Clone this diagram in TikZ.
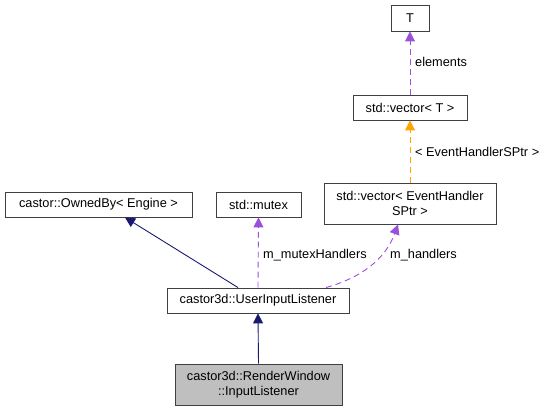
\documentclass[tikz,border=0pt]{standalone}
\usepackage{fontspec}
\setmainfont{Liberation Sans}
\usetikzlibrary{arrows.meta}
\definecolor{navyc}{RGB}{25,25,112}
\definecolor{purp}{RGB}{155,80,220}
\definecolor{orng}{RGB}{255,165,0}
\definecolor{grayfill}{RGB}{191,191,191}
\begin{document}
\begin{tikzpicture}[x=1bp,y=-1bp,
  box/.style={draw=black!75,line width=0.9pt,fill=white,inner sep=0pt,font=\fontsize{12.8}{14.5}\selectfont,align=center},
  inh/.style={navyc,line width=0.9pt,-{Triangle[length=10pt,width=10pt,fill=navyc]}},
  mem/.style={purp,dash pattern=on 6pt off 4pt,line width=0.9pt,-{Triangle[length=10pt,width=10pt,fill=purp]}},
  tmpl/.style={orng,dash pattern=on 6pt off 4pt,line width=0.9pt,-{Triangle[length=10pt,width=10pt,fill=orng]}},
  lbl/.style={font=\fontsize{12.8}{14.5}\selectfont,anchor=west,inner sep=0pt}]
\useasboundingbox (0,0) rectangle (547,411);
\node[box,minimum width=38bp,minimum height=26bp] (T) at (410,18) {T};
\node[box,minimum width=114bp,minimum height=25bp] (vT) at (410,107.5) {std::vector< T >};
\node[box,minimum width=172bp,minimum height=41bp] (vE) at (410,203.5) {std::vector< EventHandler\\SPtr >};
\node[box,minimum width=187bp,minimum height=25bp] (own) at (98.5,204.5) {castor::OwnedBy< Engine >};
\node[box,minimum width=85bp,minimum height=25bp] (mtx) at (258.5,204.5) {std::mutex};
\node[box,minimum width=182bp,minimum height=25bp] (uil) at (258,300.5) {castor3d::UserInputListener};
\node[box,fill=grayfill,minimum width=167bp,minimum height=41bp] (rw) at (258.5,384.5) {castor3d::RenderWindow\\::InputListener};
\draw[inh] (rw.north) -- (uil.south);
\draw[inh] ([xshift=-20bp]uil.north) -- (own.south -| 125,0);
\draw[mem] (uil.north) -- (mtx.south);
\draw[mem] ([xshift=68bp]uil.north) .. controls (360,278) and (385,260) .. ([xshift=-12bp]vE.south);
\draw[tmpl] (vE.north) -- (vT.south);
\draw[mem] (vT.north) -- (T.south);
\node[lbl] (l1) at (263,255) {m\_mutexHandlers};
\node[lbl] (l2) at (390,255) {m\_handlers};
\node[lbl] (l3) at (415,152) {< EventHandlerSPtr >};
\node[lbl] (l4) at (415,62) {elements};
\end{tikzpicture}
\end{document}
